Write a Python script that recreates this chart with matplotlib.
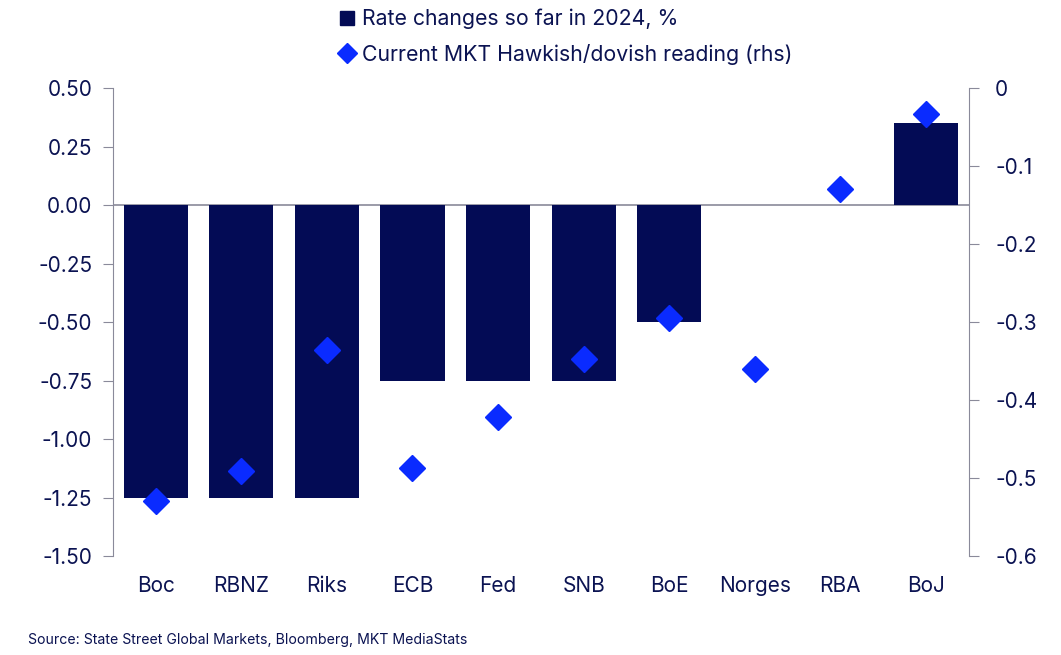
import matplotlib
matplotlib.use("Agg")
import matplotlib.pyplot as plt
from matplotlib.lines import Line2D

plt.rcParams["font.family"] = ["Inter", "DejaVu Sans"]
plt.rcParams["axes.unicode_minus"] = False

banks = ["Boc", "RBNZ", "Riks", "ECB", "Fed", "SNB", "BoE", "Norges", "RBA", "BoJ"]
rate_changes = [-1.25, -1.25, -1.25, -0.75, -0.75, -0.75, -0.50, 0.0, 0.0, 0.35]
hawk_dove = [-0.529, -0.491, -0.336, -0.487, -0.422, -0.347, -0.295, -0.360, -0.129, -0.033]
left_ticks = [0.50, 0.25, 0.0, -0.25, -0.50, -0.75, -1.00, -1.25, -1.50]
right_ticks = [0, -0.1, -0.2, -0.3, -0.4, -0.5, -0.6]

NAVY = "#030B55"
BLUE = "#0A2BFF"
TEXT = "#0B1352"
GREY = "#8A8A9A"

fig = plt.figure(figsize=(10.61, 6.55), dpi=100)
ax = fig.add_axes([0.1065, 0.151, 0.8065, 0.7146])
ax2 = ax.twinx()

x = range(len(banks))
ax.bar(x, rate_changes, width=0.75, color=NAVY, zorder=2)
ax.axhline(0, color=GREY, lw=1.2, zorder=1)
ax2.plot(x, hawk_dove, "D", color=BLUE, ms=13, zorder=3)

ax.set_xlim(-0.5, len(banks) - 0.5)
ax.set_ylim(-1.5, 0.5)
ax.set_yticks(left_ticks)
ax.set_yticklabels([f"{v:.2f}" for v in left_ticks])
ax2.set_ylim(-0.6, 0)
ax2.set_yticks(right_ticks)
ax2.set_yticklabels(["0" if v == 0 else f"{v:.1f}" for v in right_ticks])

ax.set_xticks(list(x))
ax.set_xticklabels(banks)
ax.tick_params(axis="x", length=0, pad=14, labelsize=15, labelcolor=TEXT)
ax.tick_params(axis="y", length=7, color=GREY, pad=8, labelsize=15, labelcolor=TEXT)
ax2.tick_params(axis="y", length=7, color=GREY, pad=12, labelsize=15, labelcolor=TEXT)

for a in (ax, ax2):
    for s in ("top", "bottom"):
        a.spines[s].set_visible(False)
ax.spines["right"].set_visible(False)
ax2.spines["left"].set_visible(False)
ax.spines["left"].set_color(GREY)
ax2.spines["right"].set_color(GREY)

ax2.set_zorder(ax.get_zorder() + 1)
ax2.patch.set_visible(False)

handles = [
    Line2D([], [], marker="s", ls="none", color=NAVY, ms=10),
    Line2D([], [], marker="D", ls="none", color=BLUE, ms=10),
]
labels = ["Rate changes so far in 2024, %", "Current MKT Hawkish/dovish reading (rhs)"]
leg = fig.legend(handles, labels, loc="upper left", bbox_to_anchor=(0.311, 1.0),
                 frameon=False, fontsize=15.3, handlelength=0.8, handletextpad=0.3,
                 labelspacing=0.7, borderaxespad=0)
for t in leg.get_texts():
    t.set_color(TEXT)

fig.text(0.026, 0.017, "Source: State Street Global Markets, Bloomberg, MKT MediaStats",
         fontsize=10.2, color=TEXT)

fig.savefig("out.png", dpi=100)
